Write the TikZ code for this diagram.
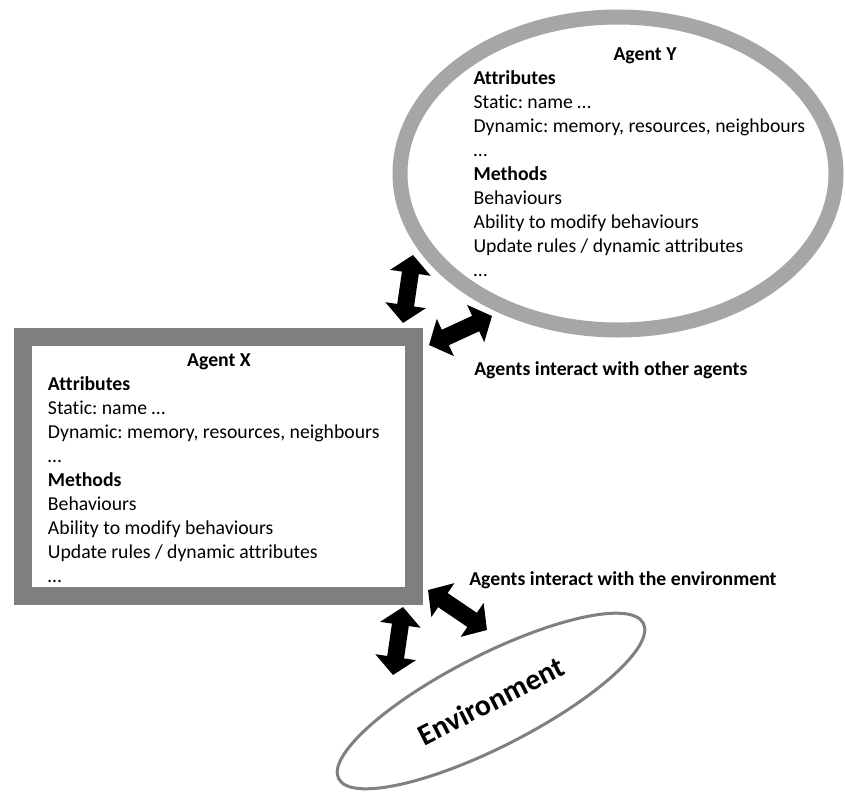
\documentclass[tikz,border=0pt]{standalone}
\usepackage{fontspec}
\setmainfont{Carlito}[Ligatures={NoCommon}]
\usetikzlibrary{arrows.meta,shapes.geometric}
\frenchspacing

\definecolor{boxgray}{HTML}{7F7F7F}
\definecolor{ringgray}{HTML}{A6A6A6}
\definecolor{envgray}{HTML}{808080}

\tikzset{
  body/.style={inner sep=0pt, font=\fontsize{14.8pt}{18pt}\selectfont},
  title/.style={body, font=\fontsize{14.8pt}{18pt}\selectfont\bfseries},
  blockarrow/.style={line width=12.75pt, black,
    {Triangle[length=13.5pt,width=30pt]}-{Triangle[length=13.5pt,width=30pt]}},
}

\newcommand{\agentlines}{%
  \begin{tabular}[t]{@{}l@{}}
  \textbf{Attributes}\\
  Static: name \dots\\
  Dynamic: memory, resources, neighbours\\
  \dots\\
  \textbf{Methods}\\
  Behaviours\\
  Ability to modify behaviours\\
  Update rules / dynamic attributes\\
  \dots
  \end{tabular}}

\begin{document}
\begin{tikzpicture}[x=0.75pt, y=-0.75pt]
  \useasboundingbox[fill=white] (0,0) rectangle (845,793);

  % Agent X: thick grey frame
  \node[draw=boxgray, line width=13.5pt, rectangle, inner sep=0pt,
        minimum width=293.25pt, minimum height=193.9pt]
        (agentX) at (218.5,466.75) {};
  \node[title, anchor=base] (xtitle) at (219,366) {Agent X};
  \node[body, anchor=base west] (xbody) at (47.7,390)
        {\fontsize{14.8pt}{18pt}\selectfont\agentlines};

  % Agent Y: thick grey ring
  \node[draw=ringgray, line width=11.25pt, ellipse, inner sep=0pt,
        minimum width=327pt, minimum height=234.75pt]
        (agentY) at (618,173.5) {};
  \node[title, anchor=base] (ytitle) at (645,60) {Agent Y};
  \node[body, anchor=base west] (ybody) at (473.3,84.5)
        {\fontsize{14.8pt}{18pt}\selectfont\agentlines};

  % Environment
  \node[draw=envgray, line width=2.25pt, ellipse, inner sep=0pt,
        minimum width=256.5pt, minimum height=69pt, rotate=27,
        font=\fontsize{22.4pt}{26pt}\selectfont\bfseries]
        (env) at (491,701) {Environment};

  % Interaction labels
  \node[title, anchor=base west] (lblagents) at (474,375)
        {Agents interact with other agents};
  \node[title, anchor=base west] (lblenv) at (469,585)
        {Agents interact with the environment};

  % Arrow end points
  \coordinate (xy1a) at (413,255);
  \coordinate (xy1b) at (403,323);
  \coordinate (xy2a) at (429,345);
  \coordinate (xy2b) at (492,316);
  \coordinate (xe1a) at (403,607);
  \coordinate (xe1b) at (393,675);
  \coordinate (xe2a) at (428,590);
  \coordinate (xe2b) at (487,630);

  \draw[blockarrow] (xy1a) -- (xy1b);
  \draw[blockarrow] (xy2a) -- (xy2b);
  \draw[blockarrow] (xe1a) -- (xe1b);
  \draw[blockarrow] (xe2a) -- (xe2b);
\end{tikzpicture}
\end{document}
